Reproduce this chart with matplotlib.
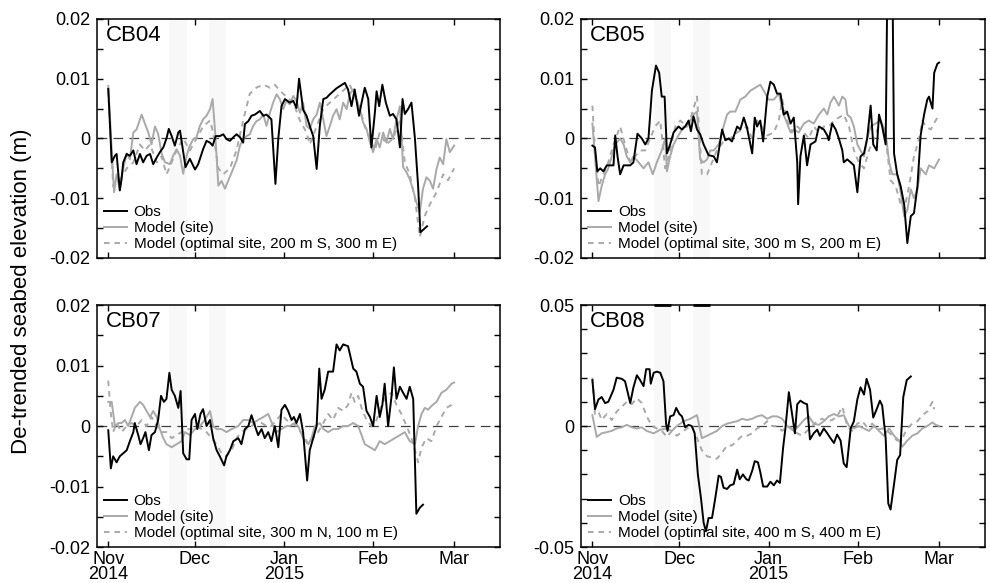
import matplotlib
matplotlib.use('Agg')
import matplotlib.pyplot as plt
from matplotlib.ticker import MultipleLocator, FuncFormatter

plt.rcParams['font.family'] = ['Liberation Sans', 'DejaVu Sans']
plt.rcParams['axes.unicode_minus'] = False
plt.rcParams['lines.scale_dashes'] = False

# x = days since 1 Nov 2014
month_days = [0, 30, 61, 92, 120]
month_labels = ['Nov\n2014', 'Dec', 'Jan\n2015', 'Feb', 'Mar']
band_start = [21.2, 34.8]
band_end = [27.3, 40.8]

# ---- CB04 ----
cb04_obs_day = [0.0, 1.2, 2.3, 2.9, 4.0, 4.6, 5.2, 6.4, 7.5, 8.7, 9.8, 11.0, 12.1, 13.3, 14.5, 15.6,
                16.8, 17.9, 19.1, 20.2, 21.0, 22.0, 23.1, 24.3, 24.9, 26.8, 28.3, 30.1, 31.2, 32.9,
                34.1, 35.3, 36.2, 37.3, 38.7, 39.9, 41.0, 42.2, 43.4, 44.5, 45.7, 46.8, 47.4, 48.6,
                49.7, 50.9, 52.6, 53.8, 54.9, 56.6, 58.0, 59.0, 60.1, 61.3, 63.0, 64.2, 65.3, 66.2,
                67.0, 67.6, 68.8, 69.9, 71.1, 72.3, 73.4, 74.6, 75.7, 76.9, 79.2, 82.1, 83.2, 84.4,
                85.5, 87.0, 87.9, 89.0, 90.2, 91.3, 92.5, 93.1, 94.0, 95.1, 96.3, 97.7, 98.8, 100.0,
                101.2, 102.1, 102.9, 104.0, 105.2, 106.4, 107.5, 108.3, 110.6]
cb04_obs = [0.0083, -0.0040, -0.0029, -0.0026, -0.0087, -0.0068, -0.0040, -0.0026, -0.0029, -0.0020,
            -0.0043, -0.0026, -0.0040, -0.0029, -0.0026, -0.0043, -0.0032, -0.0023, -0.0015, 0.0000,
            0.0016, 0.0004, -0.0012, 0.0010, 0.0013, -0.0048, -0.0034, -0.0052, -0.0043, -0.0018,
            -0.0004, -0.0007, -0.0012, 0.0004, 0.0004, 0.0007, -0.0001, -0.0004, 0.0002, 0.0007,
            0.0002, -0.0007, 0.0024, 0.0029, 0.0038, 0.0040, 0.0046, 0.0038, 0.0040, 0.0032,
            -0.0076, 0.0000, 0.0054, 0.0066, 0.0060, 0.0063, 0.0051, 0.0100, 0.0071, 0.0048,
            0.0038, 0.0021, 0.0004, -0.0051, 0.0021, 0.0066, 0.0068, 0.0074, 0.0084, 0.0093,
            0.0082, 0.0054, 0.0082, 0.0038, 0.0060, 0.0085, 0.0066, -0.0015, 0.0043, 0.0079,
            0.0054, 0.0090, 0.0060, 0.0038, 0.0041, 0.0032, -0.0015, 0.0066, 0.0041, 0.0049,
            0.0060, 0.0000, -0.0079, -0.0157, -0.0147]
cb04_site_day = [0.0, 2.0, 2.9, 4.0, 5.2, 6.4, 7.5, 8.7, 9.8, 11.6, 12.7, 13.9, 15.0, 16.2, 17.3, 18.5,
                 19.7, 21.4, 22.5, 23.7, 24.9, 26.0, 27.2, 28.3, 29.5, 30.6, 31.8, 32.9, 34.1, 35.3,
                 36.2, 37.0, 38.2, 39.3, 40.5, 41.6, 42.8, 44.5, 45.7, 46.8, 48.0, 49.1, 50.3, 51.4,
                 52.6, 53.8, 54.9, 56.1, 57.2, 58.4, 59.5, 60.7, 61.8, 63.0, 64.2, 65.3, 66.5, 67.6,
                 68.8, 69.9, 71.1, 72.3, 73.4, 74.6, 75.7, 76.9, 78.0, 79.2, 80.3, 81.5, 82.7, 83.8,
                 85.0, 86.1, 87.3, 88.4, 89.6, 90.8, 91.9, 93.1, 94.2, 95.4, 96.5, 97.7, 98.8, 100.0,
                 101.2, 102.3, 103.5, 104.6, 105.8, 106.9, 108.1, 109.2, 110.4, 111.6, 112.7, 113.9,
                 115.0, 116.2, 117.3, 118.5, 120.0]
cb04_site = [0.0088, -0.0090, -0.0060, -0.0085, -0.0050, -0.0025, -0.0035, 0.0010, 0.0015, 0.0040,
             0.0025, 0.0010, -0.0010, 0.0020, 0.0008, -0.0025, -0.0040, -0.0043, -0.0029, -0.0018,
             -0.0029, -0.0059, -0.0029, -0.0012, -0.0001, 0.0002, 0.0021, 0.0032, 0.0038, 0.0049,
             0.0066, 0.0016, -0.0079, -0.0071, -0.0084, -0.0071, -0.0057, -0.0037, -0.0012, -0.0001,
             0.0004, 0.0007, 0.0021, 0.0029, 0.0032, 0.0040, 0.0021, 0.0043, 0.0060, 0.0074,
             0.0066, 0.0049, 0.0063, 0.0057, 0.0071, 0.0063, 0.0043, 0.0060, 0.0021, 0.0016,
             0.0032, 0.0040, 0.0060, 0.0032, 0.0004, 0.0021, 0.0038, 0.0049, 0.0032, 0.0060,
             0.0049, 0.0074, 0.0082, 0.0066, 0.0049, 0.0027, 0.0016, -0.0007, -0.0023, -0.0001,
             -0.0015, 0.0010, -0.0007, 0.0016, -0.0001, 0.0032, 0.0054, -0.0048, -0.0057, -0.0068,
             -0.0087, -0.0107, -0.0123, -0.0084, -0.0065, -0.0071, -0.0084, -0.0051, -0.0032, -0.0043,
             -0.0001, -0.0023, -0.0012]
cb04_opt_day = [0.0, 1.7, 4.0, 6.4, 8.7, 11.0, 12.7, 14.5, 16.8, 18.5, 20.2, 22.0, 23.7, 26.0, 28.3,
                30.6, 32.9, 35.3, 36.4, 38.2, 39.9, 42.2, 44.5, 46.8, 49.1, 51.4, 53.8, 56.1, 57.8,
                59.5, 61.8, 64.2, 66.5, 68.8, 69.9, 72.3, 74.6, 76.9, 79.2, 81.5, 83.8, 85.5, 87.3,
                89.0, 90.8, 92.5, 94.2, 96.5, 98.8, 101.2, 102.9, 104.6, 106.4, 108.1, 109.8, 111.6,
                113.9, 116.2, 117.9, 120.0]
cb04_opt = [0.0080, -0.0080, -0.0070, -0.0050, -0.0040, -0.0010, -0.0020, -0.0010, -0.0040, -0.0030,
            -0.0060, -0.0040, -0.0020, 0.0000, -0.0020, 0.0000, 0.0020, 0.0030, 0.0010, -0.0050,
            -0.0060, -0.0050, -0.0020, 0.0030, 0.0075, 0.0085, 0.0090, 0.0085, 0.0090, 0.0080,
            0.0070, 0.0060, 0.0030, 0.0010, -0.0010, 0.0020, 0.0050, 0.0060, 0.0070, 0.0080,
            0.0090, 0.0070, 0.0050, 0.0020, 0.0000, -0.0020, 0.0010, -0.0010, 0.0000, 0.0030,
            -0.0040, -0.0060, -0.0100, -0.0165, -0.0130, -0.0110, -0.0090, -0.0060, -0.0070, -0.0050]

# ---- CB05 ----
cb05_obs_day = [0.0, 0.9, 1.7, 2.7, 3.8, 5.0, 6.1, 7.3, 7.9, 8.7, 9.6, 10.8, 11.9, 13.1, 14.2, 15.6,
                17.1, 18.3, 19.4, 20.6, 22.0, 23.1, 24.0, 25.0, 25.8, 26.9, 28.1, 29.8, 31.0, 32.1,
                33.3, 34.1, 35.0, 36.2, 37.3, 38.5, 40.2, 42.0, 43.1, 44.9, 46.0, 47.2, 48.3, 50.1,
                51.2, 52.4, 53.5, 55.3, 56.2, 57.0, 58.1, 59.1, 60.5, 61.6, 62.8, 63.9, 65.1, 66.2,
                67.4, 68.6, 69.7, 70.9, 71.2, 72.0, 73.2, 74.3, 75.5, 77.2, 78.4, 80.1, 81.3, 81.8,
                83.0, 84.2, 85.3, 86.5, 87.0, 88.2, 89.4, 90.5, 91.7, 92.8, 94.0, 95.1, 96.3, 97.2,
                98.4, 99.2, 100.3, 101.5, 102.4, 103.6, 104.4, 105.5, 106.7, 107.9, 109.0, 110.2,
                111.3, 112.5, 113.6, 114.8, 115.9, 116.5, 117.7, 118.3, 119.4, 120.0]
cb05_obs = [-0.0012, -0.0015, -0.0055, -0.0050, -0.0055, -0.0045, -0.0045, -0.0045, 0.0005, -0.0030,
            -0.0060, -0.0045, -0.0045, -0.0045, -0.0040, 0.0008, 0.0000, -0.0010, 0.0000, 0.0080,
            0.0122, 0.0110, 0.0070, 0.0070, -0.0025, -0.0010, 0.0010, 0.0020, 0.0015, 0.0020,
            0.0030, 0.0012, 0.0037, 0.0015, 0.0007, -0.0010, -0.0028, -0.0030, -0.0040, 0.0015,
            -0.0003, 0.0000, -0.0005, 0.0020, 0.0015, 0.0035, 0.0018, -0.0025, 0.0035, 0.0020,
            0.0030, -0.0005, 0.0070, 0.0095, 0.0090, 0.0075, 0.0075, 0.0040, 0.0045, 0.0025,
            0.0035, -0.0040, -0.0110, -0.0030, 0.0005, -0.0045, -0.0010, -0.0005, 0.0020, 0.0015,
            0.0005, -0.0003, 0.0025, 0.0015, 0.0000, -0.0020, -0.0040, -0.0035, -0.0040, -0.0045,
            -0.0090, -0.0030, -0.0025, 0.0000, 0.0055, -0.0010, -0.0020, 0.0040, 0.0020, -0.0010,
            0.0400, 0.0400, -0.0025, -0.0060, -0.0080, -0.0110, -0.0175, -0.0130, -0.0125, -0.0080,
            0.0005, 0.0040, 0.0065, 0.0070, 0.0050, 0.0110, 0.0125, 0.0127]
cb05_site_day = [0.0, 2.1, 3.2, 4.4, 5.5, 6.7, 7.9, 9.6, 10.8, 11.9, 13.1, 14.2, 16.0, 17.7, 19.4,
                 20.9, 22.3, 24.0, 25.2, 25.8, 26.9, 28.1, 29.2, 30.4, 31.6, 32.7, 33.9, 35.0, 36.2,
                 37.3, 38.5, 39.7, 40.8, 42.0, 43.7, 45.4, 46.6, 47.7, 49.5, 51.2, 52.9, 54.7, 56.4,
                 58.1, 59.3, 61.0, 62.8, 64.5, 66.2, 68.6, 69.7, 71.4, 73.2, 74.9, 76.6, 78.4, 80.1,
                 81.3, 82.4, 83.6, 85.3, 86.5, 87.6, 88.2, 89.4, 90.5, 91.7, 92.8, 94.0, 95.1, 96.3,
                 98.0, 99.8, 101.5, 102.7, 103.8, 105.5, 106.7, 107.9, 109.0, 110.2, 111.3, 112.5,
                 113.6, 115.4, 116.5, 118.3, 120.0]
cb05_site = [0.0025, -0.0105, -0.0080, -0.0060, -0.0050, -0.0030, -0.0010, 0.0000, -0.0010, -0.0030,
             -0.0040, -0.0030, -0.0040, -0.0050, -0.0040, -0.0060, -0.0040, -0.0020, 0.0000, -0.0055,
             -0.0030, -0.0010, 0.0000, 0.0010, 0.0020, 0.0020, 0.0030, 0.0040, 0.0045, -0.0035,
             -0.0040, -0.0035, -0.0020, -0.0020, -0.0010, 0.0020, 0.0040, 0.0045, 0.0045, 0.0065,
             0.0070, 0.0080, 0.0085, 0.0090, 0.0080, 0.0065, 0.0065, 0.0075, 0.0040, 0.0010,
             0.0015, 0.0010, 0.0025, 0.0030, 0.0025, 0.0040, 0.0050, 0.0040, 0.0060, 0.0070,
             0.0055, 0.0070, 0.0065, 0.0040, 0.0035, 0.0020, -0.0010, -0.0020, -0.0030, 0.0000,
             0.0020, 0.0025, 0.0030, 0.0010, -0.0040, -0.0060, -0.0060, -0.0090, -0.0130, -0.0120,
             -0.0085, -0.0100, -0.0085, -0.0050, -0.0060, -0.0045, -0.0050, -0.0035]
cb05_opt_day = [0.0, 0.9, 2.1, 3.8, 5.5, 7.3, 9.6, 11.3, 13.1, 14.8, 16.5, 18.3, 20.0, 21.7, 23.5,
                25.2, 26.9, 28.7, 30.4, 32.7, 34.4, 36.2, 37.9, 39.7, 41.4, 43.1, 45.4, 47.7, 50.1,
                51.8, 53.5, 55.3, 57.0, 58.7, 60.5, 62.8, 64.5, 65.7, 67.4, 69.1, 70.9, 73.2, 74.9,
                76.6, 78.4, 80.1, 81.8, 83.6, 85.3, 87.0, 88.8, 90.5, 92.2, 94.0, 95.7, 97.5, 99.8,
                101.5, 103.2, 105.0, 106.7, 107.9, 109.6, 111.3, 113.1, 114.2, 115.4, 117.1, 118.8,
                120.0]
cb05_opt = [0.0055, -0.0020, -0.0080, -0.0060, -0.0040, -0.0010, 0.0020, -0.0010, -0.0040, -0.0030,
            -0.0020, -0.0020, 0.0000, 0.0020, 0.0030, -0.0050, -0.0020, 0.0020, 0.0030, 0.0020,
            0.0040, 0.0070, -0.0060, -0.0060, -0.0040, -0.0020, -0.0005, 0.0000, 0.0010, 0.0015,
            0.0020, 0.0000, 0.0030, 0.0020, 0.0005, 0.0010, 0.0030, 0.0065, 0.0030, 0.0010,
            0.0020, 0.0010, 0.0000, 0.0020, 0.0010, 0.0020, 0.0020, 0.0030, 0.0035, 0.0040,
            0.0020, -0.0020, -0.0040, -0.0050, -0.0020, 0.0000, 0.0030, 0.0000, -0.0070, -0.0080,
            -0.0110, -0.0120, -0.0080, -0.0030, 0.0000, 0.0030, 0.0020, 0.0015, 0.0030, 0.0040]

# ---- CB07 ----
cb07_obs_day = [0.0, 0.9, 1.7, 2.9, 4.0, 5.2, 6.4, 7.5, 8.7, 9.2, 10.4, 11.2, 12.1, 12.9, 14.1, 15.0,
                16.2, 17.3, 18.3, 19.3, 20.2, 21.2, 22.0, 23.1, 24.3, 25.1, 26.0, 27.2, 28.1, 28.9,
                30.1, 30.9, 32.0, 32.9, 34.1, 35.3, 36.4, 37.6, 38.7, 40.2, 41.0, 42.2, 43.4, 45.1,
                46.2, 47.4, 48.6, 49.7, 50.9, 52.0, 53.2, 54.3, 55.5, 56.6, 57.8, 59.0, 60.1, 61.3,
                62.4, 63.6, 64.4, 65.3, 66.5, 67.6, 69.0, 69.9, 71.1, 72.3, 73.2, 74.0, 75.1, 76.3,
                78.0, 79.2, 80.3, 81.5, 83.2, 85.0, 86.1, 87.3, 88.4, 89.6, 90.8, 91.9, 93.1, 94.2,
                95.1, 95.9, 97.1, 98.3, 99.1, 100.0, 101.2, 102.3, 103.5, 104.6, 105.8, 106.9, 108.1,
                109.2]
cb07_obs = [-0.0007, -0.0070, -0.0050, -0.0060, -0.0050, -0.0045, -0.0040, -0.0025, -0.0010, 0.0005,
            -0.0015, -0.0030, -0.0020, -0.0010, -0.0040, -0.0015, -0.0010, 0.0010, 0.0050, 0.0040,
            0.0045, 0.0088, 0.0060, 0.0050, 0.0030, 0.0058, -0.0045, -0.0055, -0.0055, 0.0010,
            0.0020, -0.0005, 0.0020, 0.0028, 0.0000, 0.0010, -0.0020, -0.0040, -0.0050, -0.0065,
            -0.0050, -0.0040, -0.0025, -0.0020, -0.0030, -0.0005, 0.0000, 0.0018, 0.0000, -0.0015,
            -0.0005, -0.0020, -0.0010, -0.0025, 0.0000, -0.0035, 0.0027, 0.0035, 0.0025, 0.0010,
            0.0015, 0.0005, 0.0020, -0.0010, -0.0090, -0.0040, -0.0020, 0.0000, 0.0095, 0.0045,
            0.0060, 0.0090, 0.0090, 0.0135, 0.0125, 0.0135, 0.0132, 0.0095, 0.0090, 0.0070,
            0.0065, 0.0025, 0.0015, 0.0000, 0.0050, 0.0015, 0.0035, 0.0070, 0.0000, 0.0050,
            0.0097, 0.0045, 0.0065, 0.0055, 0.0045, 0.0065, 0.0045, -0.0145, -0.0135, -0.0130]
cb07_site_day = [0.0, 1.2, 2.3, 3.5, 4.6, 5.8, 6.9, 8.1, 9.2, 11.0, 12.1, 13.3, 14.5, 15.6, 16.8,
                 17.9, 19.1, 20.2, 22.0, 23.7, 25.4, 26.6, 28.3, 30.1, 31.8, 33.5, 35.3, 36.4, 37.6,
                 39.3, 41.0, 42.8, 45.1, 46.8, 48.6, 50.3, 52.0, 53.8, 55.5, 57.2, 58.4, 60.1, 61.8,
                 63.0, 64.7, 65.9, 67.6, 69.4, 70.5, 71.7, 73.4, 74.6, 76.3, 78.0, 79.8, 81.5, 83.2,
                 85.0, 86.7, 87.9, 89.0, 90.8, 92.5, 94.2, 95.9, 97.7, 99.4, 101.2, 102.9, 104.6,
                 106.4, 107.5, 108.7, 109.8, 111.0, 112.1, 113.9, 115.6, 117.3, 119.1, 120.0]
cb07_site = [0.0040, 0.0040, 0.0000, 0.0005, 0.0005, 0.0010, 0.0000, 0.0015, 0.0030, 0.0040,
             0.0035, 0.0025, 0.0015, 0.0025, 0.0015, -0.0005, -0.0020, -0.0030, -0.0035, -0.0030,
             -0.0025, -0.0010, -0.0015, -0.0005, 0.0000, 0.0010, 0.0025, 0.0000, -0.0005, -0.0005,
             -0.0010, -0.0005, 0.0000, 0.0010, 0.0010, 0.0005, 0.0010, 0.0015, 0.0020, 0.0000,
             -0.0010, -0.0005, 0.0000, 0.0000, 0.0005, 0.0000, -0.0020, -0.0030, -0.0020, 0.0000,
             0.0005, -0.0005, -0.0010, -0.0005, -0.0005, 0.0000, 0.0000, 0.0005, 0.0000, -0.0015,
             -0.0030, -0.0035, -0.0040, -0.0025, -0.0030, -0.0025, -0.0020, -0.0015, -0.0010, -0.0025,
             -0.0030, 0.0000, 0.0020, 0.0030, 0.0027, 0.0033, 0.0040, 0.0055, 0.0060, 0.0070, 0.0072]
cb07_opt_day = [0.0, 0.8, 1.7, 2.9, 4.6, 6.4, 8.1, 9.8, 11.6, 13.3, 15.0, 16.8, 18.5, 20.2, 22.0,
                23.7, 25.4, 27.2, 28.9, 30.6, 32.4, 34.1, 35.8, 37.6, 39.3, 41.0, 42.8, 44.5, 46.2,
                48.0, 49.7, 51.4, 53.2, 54.9, 56.6, 58.4, 60.1, 61.8, 63.6, 65.3, 67.6, 69.4, 71.1,
                72.8, 74.6, 76.3, 78.0, 79.8, 81.5, 83.2, 84.4, 85.5, 86.7, 87.9, 89.6, 91.3, 93.1,
                94.8, 96.5, 98.3, 100.0, 101.7, 103.5, 105.2, 106.4, 107.5, 108.7, 110.4, 112.1,
                113.9, 115.6, 117.3, 119.1, 120.0]
cb07_opt = [0.0075, 0.0025, -0.0010, 0.0005, -0.0010, 0.0000, 0.0005, 0.0000, 0.0010, 0.0000,
            0.0015, 0.0000, -0.0010, -0.0010, -0.0020, -0.0015, -0.0010, -0.0005, -0.0005, 0.0000,
            -0.0005, -0.0010, -0.0020, -0.0030, -0.0045, -0.0050, -0.0040, -0.0020, -0.0010, -0.0005,
            0.0000, 0.0005, 0.0005, 0.0000, 0.0000, 0.0010, 0.0020, 0.0010, 0.0005, 0.0000,
            -0.0015, -0.0030, -0.0020, -0.0010, 0.0005, 0.0020, 0.0010, 0.0030, 0.0025, 0.0035,
            0.0055, 0.0040, 0.0050, 0.0030, 0.0010, 0.0000, 0.0010, 0.0035, 0.0050, 0.0055,
            0.0035, 0.0020, 0.0000, -0.0020, -0.0040, -0.0060, -0.0035, -0.0020, -0.0025, 0.0000,
            0.0015, 0.0030, 0.0035, 0.0042]

# ---- CB08 ----
cb08_obs_day = [0.0, 0.9, 2.1, 3.2, 4.4, 5.5, 7.3, 8.4, 10.2, 11.3, 13.1, 14.2, 15.4, 16.5, 17.7,
                18.6, 19.8, 20.2, 21.2, 22.3, 23.5, 24.6, 25.5, 26.0, 26.9, 28.1, 29.0, 30.1, 31.0,
                32.1, 33.3, 34.4, 35.4, 36.5, 37.6, 38.5, 39.3, 40.2, 41.4, 42.5, 43.7, 44.5, 45.4,
                46.6, 47.7, 48.9, 50.1, 51.0, 52.1, 53.3, 54.1, 55.3, 56.2, 57.3, 58.1, 59.1, 60.5,
                61.6, 62.8, 63.9, 64.9, 66.0, 66.8, 68.0, 69.1, 70.1, 70.9, 72.0, 73.2, 74.3, 75.3,
                76.6, 77.8, 78.7, 80.1, 81.3, 82.4, 83.6, 84.7, 85.9, 87.0, 88.0, 89.4, 90.5, 91.7,
                92.8, 94.0, 94.9, 96.1, 97.2, 98.4, 99.5, 100.3, 101.5, 102.4, 103.2, 104.4, 105.5,
                106.5, 107.6, 108.8, 110.2]
cb08_obs = [0.0190, 0.0070, 0.0110, 0.0120, 0.0095, 0.0100, 0.0150, 0.0200, 0.0195, 0.0185,
            0.0095, 0.0160, 0.0210, 0.0190, 0.0165, 0.0235, 0.0235, 0.0175, 0.0220, 0.0225,
            0.0220, 0.0185, 0.0010, -0.0020, 0.0040, 0.0045, 0.0075, 0.0050, 0.0040, -0.0005,
            0.0005, 0.0000, -0.0030, -0.0200, -0.0300, -0.0400, -0.0435, -0.0380, -0.0380, -0.0300,
            -0.0205, -0.0210, -0.0255, -0.0260, -0.0245, -0.0240, -0.0180, -0.0220, -0.0200, -0.0220,
            -0.0225, -0.0185, -0.0145, -0.0150, -0.0190, -0.0250, -0.0250, -0.0230, -0.0245, -0.0225,
            -0.0235, -0.0090, -0.0010, 0.0140, 0.0050, -0.0030, 0.0090, 0.0105, 0.0095, 0.0090,
            -0.0055, -0.0030, -0.0015, -0.0040, -0.0010, -0.0030, -0.0050, -0.0070, -0.0035, -0.0060,
            -0.0155, -0.0170, -0.0010, 0.0020, 0.0110, 0.0160, 0.0130, 0.0195, 0.0150, 0.0035,
            0.0070, 0.0105, 0.0085, -0.0050, -0.0320, -0.0345, -0.0240, -0.0140, -0.0120, 0.0120,
            0.0190, 0.0205]
cb08_site_day = [0.0, 1.5, 3.2, 5.0, 6.7, 8.4, 10.2, 11.9, 13.6, 15.4, 17.1, 18.8, 21.2, 23.5, 25.8,
                 27.5, 29.2, 31.6, 33.9, 36.2, 37.9, 39.7, 41.4, 43.1, 44.9, 46.6, 48.3, 50.1, 51.8,
                 53.5, 55.3, 57.0, 58.7, 60.5, 62.2, 63.9, 65.7, 67.4, 69.7, 71.4, 73.2, 74.9, 76.6,
                 78.4, 80.1, 81.8, 83.6, 85.3, 87.0, 88.8, 90.5, 92.2, 94.0, 95.7, 97.5, 99.2, 100.9,
                 102.7, 104.4, 106.1, 107.3, 109.0, 110.7, 112.5, 114.2, 115.9, 117.7, 118.8, 120.0]
cb08_site = [0.0045, -0.0045, -0.0030, -0.0025, -0.0020, -0.0010, -0.0005, 0.0005, -0.0005, -0.0010,
             -0.0005, -0.0020, -0.0030, -0.0015, -0.0010, -0.0020, 0.0000, 0.0020, 0.0030, 0.0045,
             -0.0050, -0.0040, -0.0030, -0.0020, 0.0000, 0.0010, 0.0015, 0.0020, 0.0030, 0.0025,
             0.0030, 0.0040, 0.0045, 0.0030, 0.0040, 0.0040, 0.0030, 0.0000, -0.0020, 0.0000,
             0.0025, 0.0040, 0.0010, 0.0005, 0.0020, 0.0040, 0.0050, 0.0040, 0.0045, 0.0000,
             -0.0010, 0.0000, -0.0010, -0.0020, 0.0000, -0.0020, -0.0040, -0.0010, -0.0040, -0.0060,
             -0.0085, -0.0060, -0.0040, -0.0030, -0.0010, 0.0000, 0.0015, 0.0005, 0.0000]
cb08_opt_day = [0.0, 0.9, 2.1, 3.2, 5.0, 6.7, 8.4, 10.2, 11.9, 13.6, 15.4, 17.1, 18.8, 20.6, 22.3,
                24.0, 25.8, 27.5, 29.2, 31.0, 32.7, 34.4, 36.2, 37.9, 39.7, 41.4, 43.1, 44.9, 46.6,
                48.3, 50.1, 51.8, 53.5, 55.3, 57.0, 58.7, 60.5, 62.2, 63.9, 65.7, 67.4, 69.1, 70.9,
                72.6, 74.3, 76.1, 77.8, 79.5, 81.3, 83.0, 84.7, 86.5, 88.2, 89.9, 91.7, 93.4, 95.1,
                96.9, 98.6, 100.3, 102.1, 103.8, 105.5, 107.3, 109.0, 110.7, 112.5, 114.2, 115.9,
                117.7, 118.3]
cb08_opt = [0.0200, 0.0050, 0.0060, 0.0025, 0.0050, 0.0025, 0.0060, 0.0080, 0.0100, 0.0090,
            0.0115, 0.0095, 0.0040, 0.0000, -0.0010, -0.0020, -0.0045, -0.0020, -0.0040, -0.0025,
            -0.0010, 0.0000, -0.0050, -0.0100, -0.0125, -0.0130, -0.0135, -0.0110, -0.0080, -0.0080,
            -0.0060, -0.0040, -0.0040, -0.0030, -0.0010, 0.0000, 0.0020, 0.0000, 0.0000, -0.0020,
            0.0000, -0.0010, -0.0030, -0.0040, -0.0020, 0.0000, 0.0020, 0.0030, 0.0020, 0.0025,
            0.0040, 0.0080, 0.0000, -0.0020, 0.0010, 0.0020, -0.0005, 0.0010, -0.0015, -0.0010,
            -0.0020, -0.0040, -0.0060, -0.0050, -0.0010, 0.0010, 0.0020, 0.0045, 0.0060, 0.0100,
            0.0070]

panels = [
    ('CB04', '200 m S, 300 m E', 0.02, cb04_obs_day, cb04_obs, cb04_site_day, cb04_site, cb04_opt_day, cb04_opt),
    ('CB05', '300 m S, 200 m E', 0.02, cb05_obs_day, cb05_obs, cb05_site_day, cb05_site, cb05_opt_day, cb05_opt),
    ('CB07', '300 m N, 100 m E', 0.02, cb07_obs_day, cb07_obs, cb07_site_day, cb07_site, cb07_opt_day, cb07_opt),
    ('CB08', '400 m S, 400 m E', 0.05, cb08_obs_day, cb08_obs, cb08_site_day, cb08_site, cb08_opt_day, cb08_opt),
]

positions = [
    [0.098, 0.5575, 0.407, 0.410],
    [0.587, 0.5575, 0.408, 0.410],
    [0.098, 0.0617, 0.407, 0.415],
    [0.587, 0.0617, 0.408, 0.415],
]

grey = '#a9a9a9'


def ytick_fmt(v, pos):
    if abs(v) < 1e-9:
        return '0'
    return f'{v:g}'


fig = plt.figure(figsize=(9.9, 5.83), dpi=100)

for i, (name, offset, ylim, od, ov, sd, sv, pd_, pv) in enumerate(panels):
    ax = fig.add_axes(positions[i])
    for b0, b1 in zip(band_start, band_end):
        ax.axvspan(b0, b1, color='#f8f8f8', lw=0, zorder=0)
    ax.axhline(0, color='#404040', lw=0.9, dashes=(7, 4.5), zorder=1)

    ax.plot(od, ov, color='black', lw=1.4, label='Obs', zorder=4)
    ax.plot(sd, sv, color=grey, lw=1.4, label='Model (site)', zorder=3)
    ax.plot(pd_, pv, color=grey, lw=1.4, dashes=(4, 3.5),
            label=f'Model (optimal site, {offset})', zorder=2)

    if name == 'CB08':
        # dark marks along the top edge over the shaded periods
        for b0, b1 in zip(band_start, band_end):
            ax.plot([b0, b1], [ylim, ylim], color='black', lw=2.0,
                    solid_capstyle='butt', clip_on=False, zorder=5)

    ax.set_xlim(-3.9, 135.9)
    ax.set_ylim(-ylim, ylim)
    ax.set_xticks(month_days)
    if i >= 2:
        ax.set_xticklabels(month_labels, fontsize=13, linespacing=0.85)
    else:
        ax.set_xticklabels([])
    if ylim > 0.03:
        ax.yaxis.set_major_locator(MultipleLocator(0.05))
        ax.yaxis.set_minor_locator(MultipleLocator(0.01))
    else:
        ax.yaxis.set_major_locator(MultipleLocator(0.01))
        ax.yaxis.set_minor_locator(MultipleLocator(0.005))
    ax.yaxis.set_major_formatter(FuncFormatter(ytick_fmt))
    ax.tick_params(axis='both', which='both', direction='in', top=True, right=True,
                   length=4.5, width=1.0, labelsize=13)
    ax.tick_params(axis='y', pad=5)
    ax.tick_params(axis='x', pad=3)
    for sp in ax.spines.values():
        sp.set_linewidth(1.1)

    ax.text(0.022, 0.975, name, transform=ax.transAxes, fontsize=16,
            ha='left', va='top')
    ax.legend(loc='lower left', frameon=False, fontsize=11, handlelength=1.5,
              handletextpad=0.45, labelspacing=0.12, borderaxespad=0.25,
              borderpad=0.2)

fig.text(0.022, 0.5, 'De-trended seabed elevation (m)', rotation=90,
         fontsize=16, ha='center', va='center')

fig.savefig('out.png', dpi=100)
